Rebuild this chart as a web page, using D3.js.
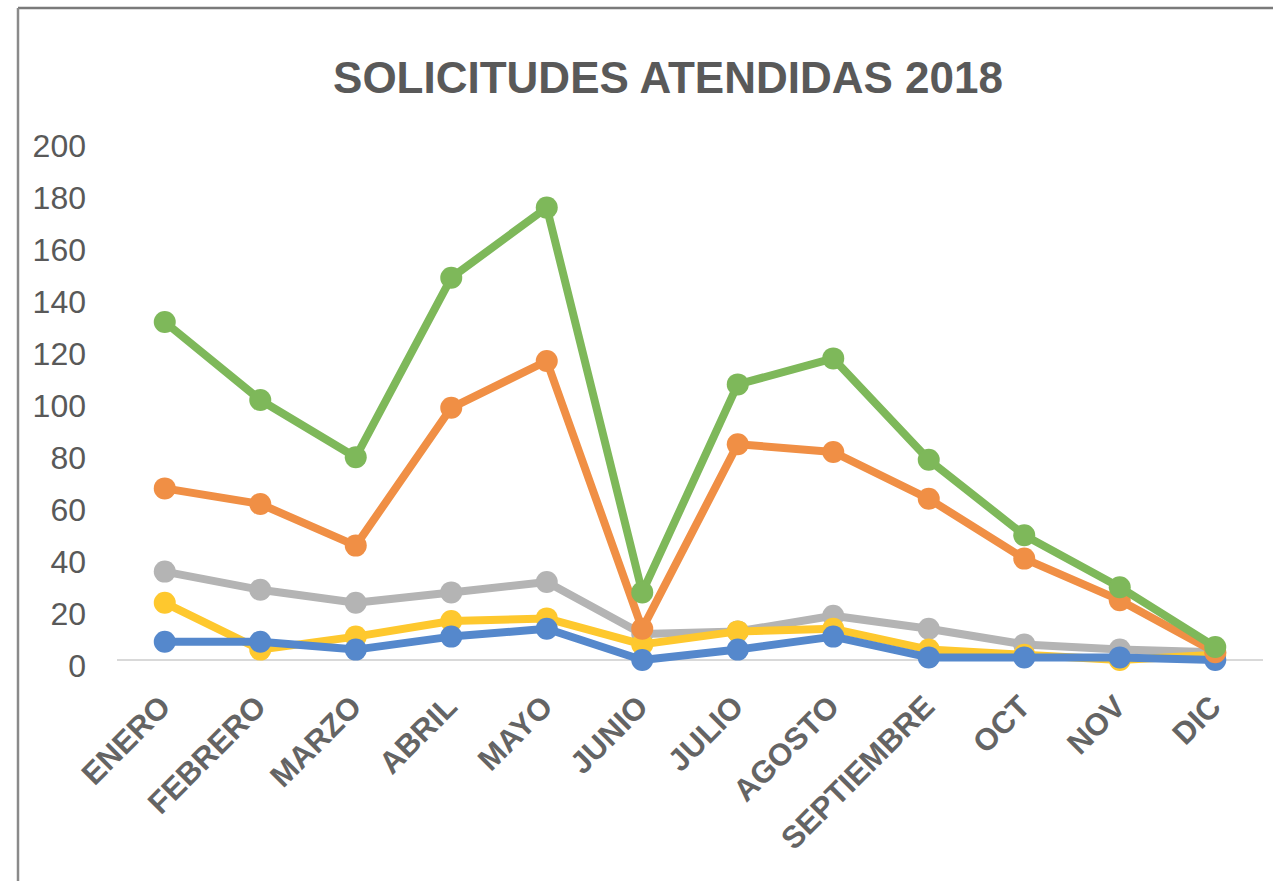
<!DOCTYPE html>
<html>
<head>
<meta charset="utf-8">
<script src="https://cdn.jsdelivr.net/npm/d3@7"></script>
<style>
  body { margin: 0; background: #fff; }
  text { font-family: "Liberation Sans", Arial, sans-serif; }
</style>
</head>
<body>
<svg id="chart" width="1273" height="881"></svg>
<script>
// months on the x axis
const months = ["ENERO", "FEBRERO", "MARZO", "ABRIL", "MAYO", "JUNIO",
  "JULIO", "AGOSTO", "SEPTIEMBRE", "OCT", "NOV", "DIC"];

// series values
const greenValues  = [130, 100, 78, 147, 174, 26, 106, 116, 77, 48, 28, 5];
const orangeValues = [66, 60, 44, 97, 115, 12, 83, 80, 62, 39, 23, 3];
const grayValues   = [34, 27, 22, 26, 30, 10, 11, 17, 12, 6, 4, 3];
const yellowValues = [22, 4, 9, 15, 16, 6, 11, 12, 4, 2, 0, 2];
const blueValues   = [7, 7, 4, 9, 12, 0, 4, 9, 1, 1, 1, 0];

const yTicks = [0, 20, 40, 60, 80, 100, 120, 140, 160, 180, 200];

// drawing order: later ones sit on top
const series = [
  { name: "gris", values: grayValues, color: "#b4b4b4" },
  { name: "amarillo", values: yellowValues, color: "#fec82e" },
  { name: "azul", values: blueValues, color: "#5588cc" },
  { name: "naranja", values: orangeValues, color: "#f08f45" },
  { name: "verde", values: greenValues, color: "#7eb85a" }
];

const svg = d3.select("#chart");

// frame (only top and left edges show in the picture)
svg.append("line").attr("x1", 18).attr("x2", 1273).attr("y1", 8).attr("y2", 8)
  .attr("stroke", "#7a7a7a").attr("stroke-width", 2.5);
svg.append("line").attr("x1", 18).attr("x2", 18).attr("y1", 8).attr("y2", 881)
  .attr("stroke", "#8a8a8a").attr("stroke-width", 2.5);

// title
svg.append("text")
  .attr("x", 668).attr("y", 93)
  .attr("text-anchor", "middle")
  .attr("font-size", 44).attr("font-weight", "bold")
  .attr("fill", "#595959")
  .text("SOLICITUDES ATENDIDAS 2018");

// scales
const x = d3.scaleBand().domain(months).range([117, 1263]).padding(0);
const y = d3.scaleLinear().domain([0, 200]).range([660, 140]);
const cx = m => x(m) + x.bandwidth() / 2;

// baseline gridline at 0
svg.append("line")
  .attr("x1", x.range()[0]).attr("x2", x.range()[1])
  .attr("y1", y(0)).attr("y2", y(0))
  .attr("stroke", "#d9d9d9").attr("stroke-width", 2);

// y axis labels
const yAxis = svg.append("g")
  .attr("transform", "translate(86,0)")
  .call(d3.axisLeft(y).tickValues(yTicks).tickSize(0).tickPadding(0));
yAxis.select(".domain").remove();
yAxis.selectAll("text")
  .attr("font-family", "'Liberation Sans', Arial, sans-serif")
  .attr("font-size", 32).attr("fill", "#595959")
  .attr("dy", "0.5em");

// x axis labels, rotated
const xAxis = svg.append("g")
  .attr("transform", "translate(0,701)")
  .call(d3.axisBottom(x).tickSize(0).tickPadding(0));
xAxis.select(".domain").remove();
xAxis.selectAll("text")
  .attr("font-family", "'Liberation Sans', Arial, sans-serif")
  .attr("font-size", 31).attr("font-weight", "bold").attr("fill", "#646464")
  .attr("text-anchor", "end")
  .attr("dy", "0.35em")
  .attr("transform", "translate(0,0) rotate(-45)");

// lines + markers
const line = d3.line()
  .x((d, i) => cx(months[i]))
  .y(d => y(d));

series.forEach(s => {
  const g = svg.append("g").attr("class", "series-" + s.name);
  g.append("path")
    .datum(s.values)
    .attr("fill", "none")
    .attr("stroke", s.color)
    .attr("stroke-width", 8)
    .attr("stroke-linejoin", "round")
    .attr("d", line);
  g.selectAll("circle")
    .data(s.values)
    .join("circle")
    .attr("cx", (d, i) => cx(months[i]))
    .attr("cy", d => y(d))
    .attr("r", 11)
    .attr("fill", s.color);
});
</script>
</body>
</html>
